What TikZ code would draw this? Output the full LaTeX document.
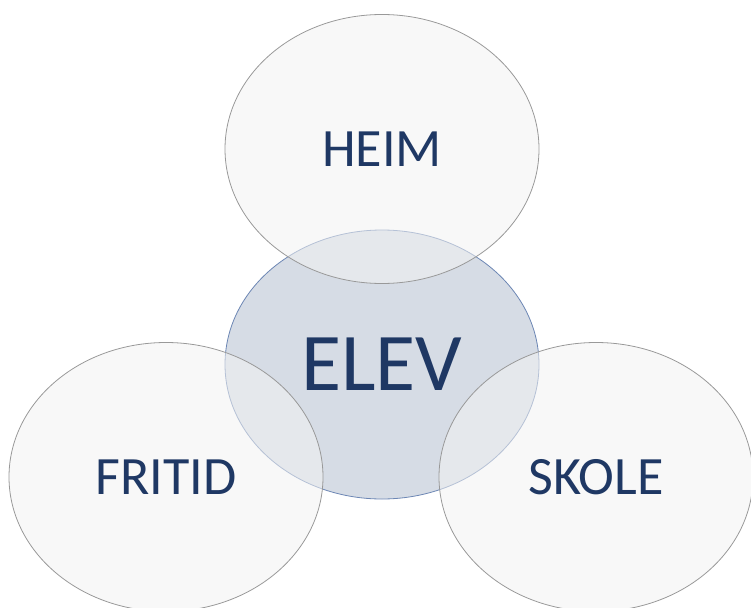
\documentclass[tikz,border=0pt]{standalone}
\usepackage{fontspec}
\setmainfont{Carlito}
\usetikzlibrary{shapes.geometric}
\definecolor{textblue}{HTML}{1F3864}
\definecolor{elevfill}{HTML}{D6DCE5}
\definecolor{elevline}{HTML}{6C86B4}
\definecolor{ringfill}{HTML}{F2F2F2}
\definecolor{ringline}{HTML}{999999}

\begin{document}
\begin{tikzpicture}[
        x=1pt, y=-1pt,
        every node/.style={ellipse, minimum width=314pt, minimum height=269pt,
          inner sep=0pt, text=textblue},
        ring/.style={draw=ringline, line width=0.8pt, fill=ringfill, fill opacity=0.55,
          text opacity=1, font=\fontsize{54}{58}\selectfont},
        core/.style={draw=elevline, line width=0.8pt, fill=elevfill,
          font=\fontsize{82}{88}\selectfont},
        ]
        \useasboundingbox (0,0) rectangle (751,607);

        \node[core] (elev)   at (382,364.5) {ELEV};
        \node[ring] (heim)   at (382,149)   {HEIM};
        \node[ring] (fritid) at (166,477)   {FRITID};
        \node[ring] (skole)  at (596,477)   {SKOLE};
      \end{tikzpicture}
\end{document}
